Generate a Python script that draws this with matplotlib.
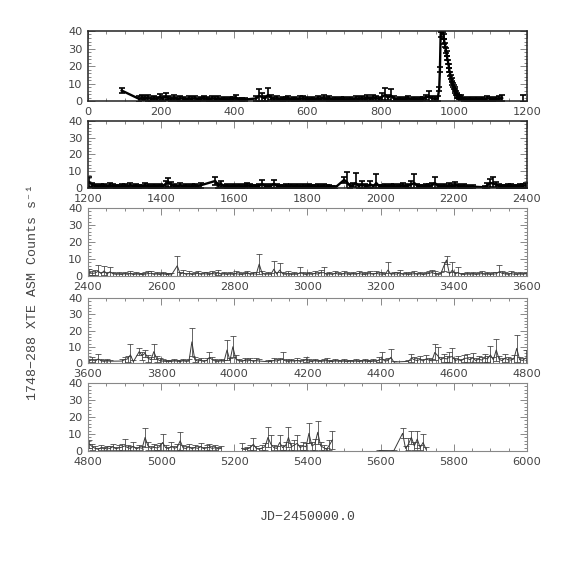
import numpy as np
import matplotlib
matplotlib.use('Agg')
import matplotlib.pyplot as plt
from matplotlib.ticker import MultipleLocator

nan = np.nan

# XTE ASM light curve of 1748-288, one sample every 8 days
# (grid starts 4 days after the panel start, 150 samples per panel, nan = no data)
starts = [0, 1200, 2400, 3600, 4800]

rate1 = [nan, nan, nan, nan, nan, nan, nan, nan, nan, nan,
         nan, 6.0, nan, nan, nan, nan, nan, 1.2, 2.0, 1.5,
         1.8, 1.1, 1.6, 1.3, 2.2, 1.4, 2.5, 1.6, 1.2, 1.9,
         1.0, 1.5, 1.3, 0.9, 1.4, 1.1, 1.6, 1.0, 1.3, 1.8,
         1.2, 0.9, 1.5, 1.1, 1.4, 1.0, 1.2, 0.8, 1.1, 1.3,
         1.9, 1.0, 0.7, 0.8, nan, nan, nan, 1.5, 3.0, 2.2,
         1.4, 3.5, 1.8, 1.2, 1.6, 1.0, 1.3, 1.1, 1.5, 0.9,
         1.2, 1.0, 1.4, 1.7, 1.1, 0.9, 1.3, 1.0, 1.5, 1.2,
         1.8, 1.1, 1.4, 0.9, 1.2, 1.0, 1.3, 1.1, 0.8, 1.2,
         1.0, 1.4, 1.1, 1.6, 1.3, 1.9, 1.2, 2.0, 1.5, 1.2,
         2.4, 3.6, 1.8, 3.2, 1.4, 1.0, 1.2, 0.9, 1.1, 1.4,
         1.0, 1.2, 0.9, 1.1, 1.3, 2.0, 2.6, 1.5, 1.2, 1.4,
         nan, nan, nan, nan, nan, nan, nan, 1.8, 1.3, 1.0,
         1.2, 0.9, 1.1, 1.0, 1.3, 0.8, 1.6, 1.1, 0.9, 1.2,
         1.5, 1.7, nan, nan, nan, nan, nan, nan, 1.5, nan]
err1 = [nan, nan, nan, nan, nan, nan, nan, nan, nan, nan,
        nan, 1.3, nan, nan, nan, nan, nan, 1.8, 1.4, 1.2,
        1.6, 1.2, 1.3, 1.1, 1.9, 1.2, 1.8, 1.3, 1.1, 1.4,
        1.2, 1.3, 1.1, 1.0, 1.2, 1.1, 1.4, 1.0, 1.2, 1.3,
        1.1, 1.0, 1.3, 1.0, 1.2, 1.0, 1.1, 1.0, 1.1, 1.2,
        1.5, 1.0, 1.0, 1.0, nan, nan, nan, 1.6, 3.6, 2.4,
        1.3, 4.2, 1.5, 1.1, 1.3, 1.0, 1.2, 1.1, 1.2, 1.0,
        1.1, 1.0, 1.2, 1.3, 1.0, 1.0, 1.1, 1.0, 1.2, 1.1,
        1.4, 1.0, 1.2, 1.0, 1.1, 1.0, 1.1, 1.0, 0.9, 1.1,
        1.0, 1.2, 1.0, 1.3, 1.1, 1.5, 1.1, 1.6, 1.3, 1.1,
        1.9, 4.0, 1.5, 3.5, 1.2, 1.0, 1.1, 1.0, 1.0, 1.2,
        1.0, 1.1, 1.0, 1.0, 1.2, 1.6, 2.9, 1.3, 1.1, 1.2,
        nan, nan, nan, nan, nan, nan, nan, 1.4, 1.1, 1.0,
        1.1, 1.0, 1.0, 1.0, 1.2, 1.0, 1.4, 1.0, 1.0, 1.1,
        1.2, 1.7, nan, nan, nan, nan, nan, nan, 1.9, nan]

# the outburst, sampled every 2 days
flare_t = [960, 962, 964, 966, 968, 970, 972, 974, 976, 978,
           980, 982, 984, 986, 988, 990, 992, 994, 996, 998,
           1000, 1002, 1004, 1006, 1008, 1010, 1012, 1014, 1016]
flare_r = [7.0, 18.0, 38.0, 44.0, 46.0, 41.0, 37.0, 34.0, 32.0, 29.0,
           27.0, 24.5, 22.5, 20.0, 17.5, 15.5, 13.5, 12.0, 10.5, 9.2,
           8.0, 6.8, 5.8, 4.7, 3.8, 3.0, 2.5, 2.2, 2.0]
flare_e = [1.2, 1.4, 1.6, 1.6, 1.6, 1.5, 1.5, 1.4, 1.4, 1.3,
           1.3, 1.3, 1.2, 1.2, 1.2, 1.2, 1.1, 1.1, 1.1, 1.1,
           1.0, 1.0, 1.0, 1.0, 1.0, 1.0, 1.0, 1.0, 1.0]

rate2 = [3.4, 1.8, 1.2, 1.0, 1.4, 1.1, 0.9, 1.6, 1.2, 1.0,
         0.8, 1.1, 1.3, 0.9, 1.5, 1.0, 1.2, 0.8, 1.0, 1.6,
         1.1, 0.9, 1.2, 1.0, 1.4, 0.9, 2.5, 3.2, 1.8, 1.2,
         0.9, 1.5, 1.0, 1.2, 0.8, 1.1, 1.4, 1.0, 1.6, nan,
         nan, nan, nan, 4.2, 1.5, 2.4, 1.0, 1.3, 0.9, 1.2,
         1.0, 1.4, 0.8, 1.1, 1.6, 1.2, 0.9, 1.0, 1.3, 2.4,
         1.1, 0.9, 1.2, 2.5, 1.3, 1.0, 0.8, 1.1, 0.9, 1.4,
         1.0, 1.2, 0.8, 1.1, 0.9, 1.3, 1.0, 0.7, 1.1, 0.9,
         1.2, 0.8, 1.0, 0.6, 0.3, nan, nan, 4.8, 3.5, 1.2,
         1.5, 3.0, 1.1, 2.0, 1.3, 1.0, 2.2, 0.9, 3.0, 1.0,
         0.9, 1.2, 1.0, 1.4, 1.1, 0.8, 1.2, 1.6, 1.0, 1.3,
         2.2, 3.0, 1.2, 1.0, 0.9, 1.3, 1.1, 1.5, 3.0, 1.4,
         1.0, 1.2, 0.9, 1.5, 1.1, 1.8, 1.3, 1.0, 1.2, 0.7,
         0.6, 0.8, nan, nan, nan, 0.4, 1.6, 3.0, 2.6, 2.0,
         1.2, 1.0, 0.9, 1.3, 1.1, 1.0, 0.8, 1.4, 1.2, 1.5]
err2 = [3.0, 1.4, 1.1, 1.0, 1.2, 1.0, 1.0, 1.3, 1.1, 1.0,
        1.0, 1.1, 1.2, 1.0, 1.3, 1.0, 1.1, 1.0, 1.0, 1.3,
        1.1, 1.0, 1.1, 1.0, 1.2, 1.0, 1.9, 3.0, 1.5, 1.1,
        1.0, 1.3, 1.0, 1.1, 1.0, 1.1, 1.2, 1.0, 1.4, nan,
        nan, nan, nan, 2.6, 1.3, 1.8, 1.0, 1.1, 1.0, 1.1,
        1.0, 1.2, 1.0, 1.1, 1.3, 1.1, 1.0, 1.0, 1.2, 2.6,
        1.1, 1.0, 1.1, 2.4, 1.2, 1.0, 1.0, 1.1, 1.0, 1.2,
        1.0, 1.1, 1.0, 1.0, 1.0, 1.1, 1.0, 1.0, 1.0, 1.0,
        1.1, 1.0, 1.0, 0.8, 0.8, nan, nan, 1.6, 6.3, 1.1,
        1.2, 6.2, 1.0, 2.4, 1.1, 1.0, 2.0, 1.0, 5.2, 1.0,
        1.0, 1.1, 1.0, 1.2, 1.0, 1.0, 1.1, 1.3, 1.0, 1.1,
        2.0, 5.2, 1.1, 1.0, 1.0, 1.1, 1.0, 1.3, 3.4, 1.2,
        1.0, 1.1, 1.0, 1.2, 1.0, 1.5, 1.1, 1.0, 1.1, 0.9,
        0.8, 0.9, nan, nan, nan, 0.8, 1.4, 2.6, 4.2, 1.6,
        1.1, 1.0, 1.0, 1.1, 1.0, 1.0, 0.9, 1.2, 1.1, 1.3]

rate3 = [2.2, 1.5, 1.8, 2.8, 1.4, 3.0, 1.2, 2.5, 1.3, 1.0,
         1.1, 0.9, 1.3, 1.0, 1.5, 0.8, 1.2, 1.0, 0.9, 1.1,
         1.4, 1.6, 1.0, 1.2, 0.9, 1.3, 1.0, 0.8, 0.6, nan,
         6.0, 1.2, 1.8, 1.0, 1.4, 0.9, 1.1, 1.6, 1.0, 1.3,
         1.2, 0.9, 1.5, 1.1, 2.0, 1.0, 1.3, 0.9, 1.2, 1.0,
         1.4, 1.1, 0.9, 1.2, 1.6, 1.0, 1.3, 1.1, 7.0, 1.5,
         1.0, 1.2, 1.0, 4.0, 1.1, 3.5, 1.3, 1.0, 1.4, 0.9,
         1.1, 1.0, 2.0, 1.2, 0.9, 1.3, 1.0, 1.5, 1.1, 1.8,
         2.0, 1.0, 1.3, 0.9, 1.6, 1.1, 1.0, 1.4, 1.2, 0.9,
         1.3, 1.0, 1.5, 1.1, 0.9, 1.2, 1.4, 1.0, 1.6, 1.1,
         1.2, 0.9, 3.5, 1.0, 1.3, 1.1, 1.8, 1.0, 1.2, 0.9,
         1.1, 1.4, 1.0, 1.3, 0.8, 1.2, 1.5, 2.0, 1.4, 1.0,
         1.1, 5.5, 9.4, 1.2, 3.5, 1.3, 2.0, 1.0, 0.9, 1.2,
         1.0, 1.3, 0.9, 1.1, 1.4, 1.0, 1.2, 0.9, 1.1, 1.3,
         2.5, 1.6, 1.2, 1.0, 1.4, 1.1, 0.9, 1.2, 1.0, 1.3]
err3 = [1.8, 1.2, 1.5, 3.6, 1.2, 2.6, 1.1, 2.5, 1.2, 1.0,
        1.0, 1.0, 1.2, 1.0, 1.3, 1.0, 1.1, 1.0, 1.0, 1.1,
        1.3, 1.4, 1.0, 1.1, 1.0, 1.2, 1.0, 1.0, 0.9, nan,
        5.8, 1.2, 1.6, 1.0, 1.3, 1.0, 1.1, 1.5, 1.0, 1.2,
        1.1, 1.0, 1.4, 1.1, 1.7, 1.0, 1.2, 1.0, 1.1, 1.0,
        1.3, 1.1, 1.0, 1.1, 1.5, 1.0, 1.2, 1.1, 5.8, 1.3,
        1.0, 1.1, 1.0, 4.8, 1.1, 4.3, 1.2, 1.0, 1.3, 1.0,
        1.1, 1.0, 3.5, 1.1, 1.0, 1.2, 1.0, 1.4, 1.1, 1.6,
        3.0, 1.0, 1.2, 1.0, 1.5, 1.1, 1.0, 1.3, 1.1, 1.0,
        1.2, 1.0, 1.4, 1.1, 1.0, 1.1, 1.3, 1.0, 1.4, 1.1,
        1.1, 1.0, 4.5, 1.0, 1.2, 1.1, 1.6, 1.0, 1.1, 1.0,
        1.1, 1.3, 1.0, 1.2, 1.0, 1.1, 1.4, 1.8, 1.3, 1.0,
        1.1, 2.5, 2.4, 1.1, 4.9, 1.2, 3.0, 1.0, 1.0, 1.1,
        1.0, 1.2, 1.0, 1.1, 1.3, 1.0, 1.1, 1.0, 1.1, 1.2,
        3.8, 1.4, 1.1, 1.0, 1.3, 1.1, 1.0, 1.1, 1.0, 1.2]

rate4 = [1.5, 2.0, 1.2, 2.5, 1.3, 1.0, 1.4, 1.1, nan, nan,
         nan, 1.2, 2.0, 2.5, 5.0, 0.8, nan, 7.0, 4.5, 6.0,
         3.0, 2.0, 7.0, 2.5, 1.5, 1.2, 1.0, 0.8, 1.0, 1.3,
         1.1, 0.9, 1.4, 1.0, 1.2, 13.0, 2.0, 1.2, 1.6, 1.0,
         1.5, 3.5, 2.0, 1.2, 1.0, 1.4, 1.1, 8.0, 1.5, 10.0,
         2.5, 1.4, 1.0, 1.6, 1.2, 1.8, 1.0, 1.5, 1.2, nan,
         nan, 0.8, 1.0, 1.5, 1.2, 1.8, 2.2, 1.3, 1.0, 1.4,
         1.1, 1.6, 1.0, 1.3, 2.0, 1.2, 0.9, 1.4, 1.1, 1.0,
         1.2, 1.5, 1.0, 0.9, 1.3, 1.1, 1.0, 1.2, 0.8, 1.1,
         1.0, 1.2, 0.9, 1.1, 1.3, 1.0, 0.8, 1.2, 1.0, 2.0,
         2.5, 1.2, 1.5, 3.5, 0.6, nan, nan, nan, nan, 1.0,
         3.0, 2.0, 1.5, 2.2, 1.2, 2.5, 1.8, 1.3, 6.5, 4.5,
         2.0, 3.0, 2.5, 3.5, 4.0, 1.5, 2.2, 1.3, 2.8, 3.0,
         2.0, 3.2, 1.5, 2.4, 1.8, 3.0, 2.5, 5.0, 2.0, 8.0,
         2.2, 1.5, 3.0, 2.0, 1.8, 2.5, 9.0, 2.0, 1.6, 3.0]
err4 = [1.2, 1.5, 1.1, 3.0, 1.2, 1.0, 1.2, 1.0, nan, nan,
        nan, 1.1, 1.8, 2.0, 6.4, 1.0, nan, 2.0, 2.5, 2.2,
        2.2, 1.7, 4.4, 2.0, 1.3, 1.1, 1.0, 1.0, 1.0, 1.2,
        1.0, 1.0, 1.2, 1.0, 1.1, 8.8, 1.6, 1.1, 1.4, 1.0,
        1.3, 3.5, 1.7, 1.1, 1.0, 1.2, 1.0, 6.0, 1.3, 6.5,
        2.2, 1.2, 1.0, 1.4, 1.1, 1.5, 1.0, 1.3, 1.1, nan,
        nan, 1.0, 1.0, 1.3, 1.1, 1.5, 4.8, 1.2, 1.0, 1.2,
        1.0, 1.4, 1.0, 1.2, 1.6, 1.1, 1.0, 1.2, 1.0, 1.0,
        1.1, 1.3, 1.0, 1.0, 1.2, 1.0, 1.0, 1.1, 1.0, 1.0,
        1.0, 1.1, 1.0, 1.0, 1.2, 1.0, 1.0, 1.1, 1.0, 1.6,
        4.2, 1.1, 1.3, 5.1, 0.9, nan, nan, nan, nan, 1.0,
        2.5, 1.7, 1.3, 1.9, 1.1, 2.2, 1.5, 1.2, 4.9, 5.5,
        1.7, 2.6, 2.1, 3.0, 5.0, 1.3, 1.9, 1.2, 2.4, 2.6,
        1.7, 2.8, 1.3, 2.0, 1.6, 2.6, 2.1, 5.4, 1.7, 6.5,
        1.9, 1.3, 2.6, 1.7, 1.5, 2.2, 8.5, 1.7, 1.4, 5.0]

rate5 = [4.0, 2.5, 1.5, 1.0, 2.0, 1.2, 1.8, 1.5, 2.5, 1.3,
         1.8, 2.2, 3.0, 2.0, 1.5, 2.8, 1.2, 2.0, 1.6, 8.0,
         3.0, 1.5, 2.2, 1.8, 2.5, 5.0, 2.0, 1.4, 2.8, 1.6,
         2.2, 6.0, 1.8, 1.5, 2.4, 1.3, 2.0, 1.6, 2.5, 1.4,
         1.8, 2.2, 1.5, 2.0, 1.2, 1.6, nan, nan, nan, nan,
         nan, nan, 1.5, 0.8, 1.2, 2.0, 4.0, 1.5, 1.0, 1.8,
         2.5, 8.0, 4.0, 2.0, 1.5, 5.0, 2.0, 3.0, 8.0, 2.5,
         3.5, 4.5, 2.0, 3.0, 2.5, 10.4, 3.0, 4.0, 11.0, 3.0,
         2.0, 1.0, 3.5, 6.5, nan, nan, nan, nan, nan, nan,
         nan, nan, nan, nan, nan, nan, nan, nan, nan, 0.3,
         nan, nan, nan, nan, 0.2, nan, nan, 10.4, 1.5, 4.0,
         8.0, 3.0, 7.0, 2.0, 5.0, 1.0, nan, nan, nan, nan,
         nan, nan, nan, nan, nan, nan, nan, nan, nan, nan,
         nan, nan, nan, nan, nan, nan, nan, nan, nan, nan,
         nan, nan, nan, nan, nan, nan, nan, nan, nan, nan]
err5 = [2.5, 1.8, 1.3, 1.0, 1.5, 1.1, 1.4, 1.3, 1.9, 1.2,
        1.5, 1.7, 3.9, 1.6, 1.3, 2.2, 1.1, 1.6, 1.4, 5.8,
        2.4, 1.3, 1.8, 1.5, 2.0, 5.2, 1.7, 1.2, 2.3, 1.4,
        1.8, 5.4, 1.5, 1.3, 2.0, 1.2, 1.7, 1.4, 2.1, 1.2,
        1.5, 1.8, 1.3, 1.6, 1.1, 1.4, nan, nan, nan, nan,
        nan, nan, 3.0, 1.0, 1.2, 1.7, 3.5, 1.3, 1.0, 1.5,
        2.1, 5.9, 5.5, 1.7, 1.3, 4.4, 1.7, 2.5, 5.9, 2.1,
        2.9, 4.9, 1.7, 2.5, 2.1, 5.9, 2.5, 3.3, 6.8, 2.5,
        1.7, 1.0, 2.9, 5.5, nan, nan, nan, nan, nan, nan,
        nan, nan, nan, nan, nan, nan, nan, nan, nan, 0.5,
        nan, nan, nan, nan, 0.5, nan, nan, 2.9, 1.5, 3.4,
        4.0, 2.5, 5.0, 1.7, 5.0, 1.2, nan, nan, nan, nan,
        nan, nan, nan, nan, nan, nan, nan, nan, nan, nan,
        nan, nan, nan, nan, nan, nan, nan, nan, nan, nan,
        nan, nan, nan, nan, nan, nan, nan, nan, nan, nan]

rates = [rate1, rate2, rate3, rate4, rate5]
errs = [err1, err2, err3, err4, err5]

# panel boxes in figure fraction (left, bottom, width, height)
boxes = [(0.1533, 0.8240, 0.7648, 0.1220),
         (0.1533, 0.6725, 0.7648, 0.1167),
         (0.1533, 0.5192, 0.7648, 0.1185),
         (0.1533, 0.3676, 0.7648, 0.1132),
         (0.1533, 0.2143, 0.7648, 0.1185)]

txtcol = '#444444'
plt.rcParams['font.family'] = 'DejaVu Sans'

fig = plt.figure(figsize=(5.74, 5.74), dpi=100)

for i in range(5):
    ax = fig.add_axes(boxes[i])
    t = starts[i] + 4 + 8 * np.arange(150)
    r = np.array(rates[i], float)
    e = np.array(errs[i], float)
    if i == 0:
        t = np.concatenate([t, flare_t])
        r = np.concatenate([r, flare_r])
        e = np.concatenate([e, flare_e])
    ok = ~np.isnan(r)
    t, r, e = t[ok], r[ok], e[ok]
    o = np.argsort(t)
    t, r, e = t[o], r[o], e[o]

    # first two panels are drawn heavy, the rest light
    if i < 2:
        col, lw, elw, fcol, flw = 'black', 1.7, 1.2, '#222222', 1.1
    else:
        col, lw, elw, fcol, flw = '#3a3a3a', 0.7, 0.55, '#888888', 0.8

    # break the line across long gaps
    brk = np.where(np.diff(t) > 50)[0] + 1
    tl = np.insert(t.astype(float), brk, nan)
    rl = np.insert(r, brk, nan)
    ax.plot(tl, rl, '-', color=col, lw=lw)
    ax.errorbar(t, r, yerr=e, fmt='none', ecolor=col, elinewidth=elw,
                capsize=2.2, capthick=elw)

    ax.set_xlim(starts[i], starts[i] + 1200)
    ax.set_ylim(0, 40)
    ax.xaxis.set_major_locator(MultipleLocator(200))
    ax.xaxis.set_minor_locator(MultipleLocator(50))
    ax.yaxis.set_major_locator(MultipleLocator(10))
    ax.yaxis.set_minor_locator(MultipleLocator(2))
    ax.tick_params(which='both', direction='in', top=True, right=True,
                   color='#888888', width=0.7, labelsize=8.2, labelcolor=txtcol)
    ax.tick_params(which='major', length=5, pad=4)
    ax.tick_params(which='minor', length=2.5)
    for s in ax.spines.values():
        s.set_color(fcol)
        s.set_linewidth(flw)

fig.text(0.5357, 0.099, 'JD\u22122450000.0', ha='center', va='center',
         family=['Liberation Mono', 'DejaVu Sans Mono'], fontsize=9.5, color=txtcol)
fig.text(0.0575, 0.491, '1748\u2212288 XTE ASM Counts s\u207b\u00b9', rotation=90,
         ha='center', va='center', family=['Liberation Mono', 'DejaVu Sans Mono'],
         fontsize=9.5, color=txtcol)

fig.savefig('out.png', dpi=100)
